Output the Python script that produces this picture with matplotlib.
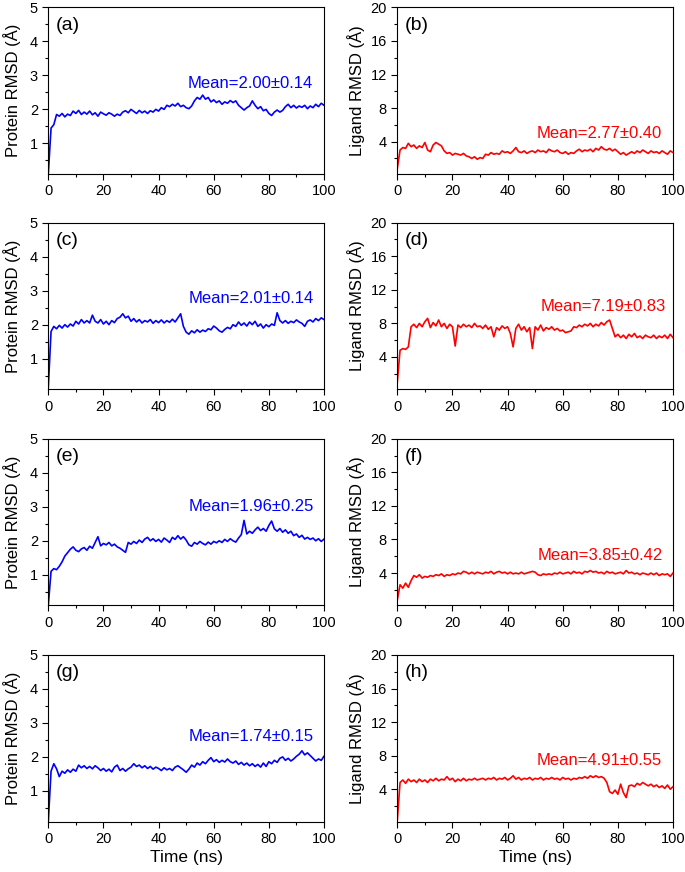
import numpy as np
import matplotlib
matplotlib.use("Agg")
import matplotlib.pyplot as plt

plt.rcParams['font.family'] = ['Liberation Sans', 'DejaVu Sans']

# time axis (ns), one value per ns
time_ns = list(range(0, 101))

# protein RMSD (A), panels a, c, e, g
prot_a = [0.10, 1.45, 1.55, 1.85, 1.80, 1.88, 1.78, 1.86, 1.82, 1.95,
          1.88, 1.97, 1.85, 1.92, 1.86, 1.95, 1.84, 1.90, 1.80, 1.92,
          1.87, 1.83, 1.90, 1.86, 1.80, 1.86, 1.82, 1.92, 1.96, 1.90,
          2.00, 1.94, 1.88, 1.97, 1.90, 1.95, 1.88, 1.96, 1.92, 2.00,
          1.95, 2.05, 2.00, 2.12, 2.08, 2.15, 2.10, 2.18, 2.08, 2.12,
          2.05, 2.02, 2.10, 2.25, 2.35, 2.30, 2.42, 2.30, 2.35, 2.22,
          2.28, 2.20, 2.25, 2.15, 2.22, 2.18, 2.26, 2.20, 2.25, 2.12,
          2.05, 1.98, 2.05, 2.10, 2.25, 2.12, 2.02, 2.08, 1.96, 2.00,
          1.88, 1.82, 1.92, 1.98, 1.92, 1.97, 2.08, 2.15, 2.05, 2.12,
          2.04, 2.10, 2.06, 2.12, 2.02, 2.10, 2.05, 2.15, 2.08, 2.18, 2.12]
prot_c = [0.15, 1.80, 1.95, 1.88, 1.98, 1.90, 2.00, 1.93, 2.02, 1.96,
          2.10, 2.02, 2.15, 2.05, 2.12, 2.05, 2.28, 2.10, 2.05, 2.15,
          2.02, 2.10, 2.00, 2.12, 2.06, 2.18, 2.22, 2.32, 2.20, 2.25,
          2.10, 2.18, 2.08, 2.15, 2.05, 2.12, 2.08, 2.15, 2.04, 2.12,
          2.06, 2.14, 2.05, 2.12, 2.07, 2.16, 2.08, 2.20, 2.32, 1.95,
          1.78, 1.72, 1.82, 1.76, 1.85, 1.78, 1.84, 1.80, 1.88, 1.85,
          1.96, 1.90, 1.82, 1.78, 1.86, 1.92, 1.88, 2.00, 1.95, 2.08,
          1.98, 2.05, 1.96, 2.08, 2.00, 2.10, 1.95, 2.02, 1.90, 2.00,
          1.94, 2.02, 1.98, 2.35, 2.12, 2.05, 2.12, 2.04, 2.10, 2.06,
          2.14, 2.08, 2.04, 1.95, 2.10, 2.14, 2.08, 2.18, 2.12, 2.20, 2.15]
prot_e = [0.10, 1.10, 1.18, 1.15, 1.25, 1.38, 1.55, 1.65, 1.75, 1.82,
          1.72, 1.68, 1.76, 1.80, 1.72, 1.84, 1.78, 1.95, 2.12, 1.85,
          1.92, 1.88, 1.95, 1.85, 1.90, 1.82, 1.78, 1.72, 1.66, 1.95,
          1.90, 1.98, 1.92, 2.02, 1.95, 2.05, 2.10, 2.00, 2.06, 1.98,
          2.04, 1.96, 2.08, 2.02, 1.95, 2.10, 2.04, 2.15, 2.05, 2.12,
          2.02, 1.88, 1.84, 1.95, 1.90, 1.98, 1.92, 1.88, 1.96, 1.90,
          1.98, 1.94, 2.00, 1.95, 2.04, 1.98, 2.06, 2.00, 1.96, 2.08,
          2.18, 2.60, 2.20, 2.28, 2.22, 2.32, 2.40, 2.30, 2.36, 2.28,
          2.45, 2.58, 2.35, 2.28, 2.36, 2.25, 2.32, 2.22, 2.28, 2.15,
          2.20, 2.10, 2.16, 2.05, 2.10, 2.04, 2.08, 2.00, 2.06, 1.98, 2.05]
prot_g = [0.10, 1.58, 1.80, 1.65, 1.42, 1.58, 1.52, 1.62, 1.55, 1.64,
          1.58, 1.76, 1.68, 1.74, 1.66, 1.72, 1.65, 1.74, 1.68, 1.60,
          1.66, 1.58, 1.64, 1.56, 1.70, 1.76, 1.60, 1.66, 1.58, 1.65,
          1.70, 1.80, 1.72, 1.76, 1.68, 1.74, 1.66, 1.72, 1.64, 1.70,
          1.66, 1.60, 1.68, 1.62, 1.66, 1.60, 1.70, 1.74, 1.68, 1.62,
          1.55, 1.64, 1.76, 1.70, 1.82, 1.76, 1.86, 1.80, 1.90, 1.98,
          1.86, 1.92, 1.84, 1.90, 1.85, 1.94, 1.86, 1.82, 1.88, 1.78,
          1.84, 1.76, 1.82, 1.74, 1.80, 1.72, 1.78, 1.70, 1.82, 1.72,
          1.86, 1.80, 1.90, 1.84, 1.96, 2.00, 1.90, 1.96, 1.88, 1.94,
          2.02, 2.08, 2.18, 2.06, 2.12, 2.04, 1.96, 1.88, 1.94, 1.90, 2.02]

# ligand RMSD (A), panels b, d, f, h
lig_b = [0.8, 3.0, 3.3, 3.2, 3.8, 3.4, 3.6, 3.2, 3.5, 3.3,
         3.9, 3.0, 2.8, 3.6, 3.9, 3.7, 3.5, 2.9, 2.6, 2.7,
         2.4, 2.6, 2.5, 2.4, 2.6, 2.3, 2.2, 2.0, 2.2, 1.9,
         2.1, 2.0, 2.5, 2.4, 2.7, 2.5, 2.6, 2.5, 2.9, 2.7,
         2.8, 2.6, 2.9, 3.3, 2.8, 2.7, 2.9, 2.6, 2.8, 2.9,
         2.7, 3.0, 2.8, 2.9, 2.7, 3.1, 2.9, 2.8, 3.0, 2.7,
         2.6, 2.8, 2.5, 2.7, 2.6, 2.9, 3.1, 2.8, 3.0, 2.9,
         3.1, 2.8, 3.2, 3.0, 3.4, 3.1, 3.0, 3.2, 2.9, 3.1,
         2.8, 2.5, 2.7, 2.4, 2.6, 2.8, 2.6, 2.9, 2.7, 3.0,
         2.8, 2.6, 2.9, 2.7, 2.8, 2.6, 2.9, 2.7, 2.5, 2.9, 2.7]
lig_d = [1.0, 4.8, 5.0, 4.9, 5.2, 7.6, 7.9, 7.5, 8.0, 7.6,
         8.2, 8.6, 7.5, 8.1, 7.7, 8.4, 7.6, 8.0, 7.4, 7.9,
         7.6, 5.3, 7.8, 7.5, 7.9, 7.6, 7.8, 7.5, 8.0, 7.6,
         7.7, 7.4, 7.8, 7.3, 7.6, 6.4, 7.5, 7.2, 7.7, 7.4,
         7.6, 6.8, 5.2, 7.4, 7.9, 7.2, 7.6, 7.0, 7.5, 5.0,
         7.6, 7.2, 7.8, 7.1, 7.5, 7.3, 7.6, 7.2, 7.4, 7.1,
         7.2, 6.9, 7.0, 7.1, 7.6, 7.5, 7.8, 7.6, 7.9, 7.7,
         8.0, 7.6, 7.9, 7.7, 8.1, 7.8, 8.2, 8.4, 7.4, 6.4,
         6.7, 6.3, 6.6, 6.2, 6.7, 6.4, 6.8, 6.3, 6.5, 6.2,
         6.6, 6.4, 6.3, 6.6, 6.2, 6.5, 6.3, 6.6, 6.2, 6.7, 6.3]
lig_f = [0.8, 2.6, 2.2, 2.8, 2.3, 3.1, 3.7, 3.5, 3.8, 3.4,
         3.6, 3.5, 3.7, 3.6, 3.8, 3.7, 3.9, 3.6, 3.8, 3.7,
         3.9, 3.8, 4.0, 3.9, 4.2, 4.1, 3.9, 4.1, 3.9, 4.1,
         4.0, 3.9, 4.1, 4.0, 4.2, 3.9, 4.1, 4.2, 4.0, 4.1,
         3.9, 4.1, 3.9, 4.0, 3.9, 4.1, 3.9, 4.0, 4.1, 4.2,
         4.1, 3.8, 3.7, 3.9, 3.8, 3.9, 3.8, 4.0, 3.9, 4.1,
         3.9, 4.0, 4.1, 3.9, 4.2, 4.0, 4.1, 3.9, 4.2, 4.1,
         4.3, 4.1, 4.2, 4.0, 4.1, 3.9, 4.2, 4.0, 4.1, 3.9,
         4.0, 4.1, 3.9, 4.3, 4.0, 4.1, 3.9, 4.0, 3.8, 4.0,
         3.9, 3.8, 4.0, 3.8, 4.0, 3.7, 3.9, 3.8, 3.9, 3.6, 4.0]
lig_h = [0.3, 4.8, 5.1, 4.7, 5.2, 4.9, 5.1, 4.8, 5.2, 4.9,
         5.1, 4.8, 5.2, 5.0, 5.3, 5.0, 5.2, 5.1, 5.5, 5.1,
         5.3, 4.9, 5.2, 5.0, 5.3, 5.0, 5.2, 5.1, 5.3, 5.1,
         5.2, 5.3, 5.1, 5.3, 5.2, 5.4, 5.1, 5.3, 5.2, 5.4,
         5.1, 5.3, 5.6, 5.2, 5.4, 5.1, 5.3, 5.2, 5.4, 5.1,
         5.3, 5.2, 5.4, 5.1, 5.3, 5.2, 5.4, 5.2, 5.3, 5.1,
         5.4, 5.2, 5.3, 5.1, 5.3, 5.2, 5.4, 5.3, 5.5, 5.3,
         5.6, 5.4, 5.6, 5.4, 5.5, 5.3, 4.8, 3.7, 3.5, 3.9,
         3.4, 4.6, 3.6, 3.0, 4.4, 4.5, 4.3, 4.7, 4.5, 4.8,
         4.6, 4.4, 4.6, 4.3, 4.5, 4.2, 4.4, 4.1, 4.5, 4.0, 4.3]

panel_tags = ['(a)', '(b)', '(c)', '(d)', '(e)', '(f)', '(g)', '(h)']
mean_texts = ['Mean=2.00\u00b10.14', 'Mean=2.77\u00b10.40',
              'Mean=2.01\u00b10.14', 'Mean=7.19\u00b10.83',
              'Mean=1.96\u00b10.25', 'Mean=3.85\u00b10.42',
              'Mean=1.74\u00b10.15', 'Mean=4.91\u00b10.55']
mean_pos = [(50.4, 2.76), (50.4, 4.96), (51.0, 2.77), (52.0, 10.0),
            (51.0, 3.0), (51.0, 6.06), (51.0, 2.6), (50.7, 7.37)]


def style_axis(ax, ligand, bottom_row):
    ax.set_xlim(0, 100)
    ax.set_xticks([0, 20, 40, 60, 80, 100])
    ax.set_xticks(np.arange(10, 100, 20), minor=True)
    if ligand:
        ax.set_ylim(0.15, 20)
        ax.set_yticks([4, 8, 12, 16, 20])
        ax.set_yticks([2, 6, 10, 14, 18], minor=True)
        ax.set_ylabel('Ligand RMSD (\u00c5)', fontsize=12, labelpad=4)
    else:
        ax.set_ylim(0.1, 5)
        ax.set_yticks([1, 2, 3, 4, 5])
        ax.set_yticks([0.5, 1.5, 2.5, 3.5, 4.5], minor=True)
        ax.set_ylabel('Protein RMSD (\u00c5)', fontsize=12, labelpad=6)
    ax.tick_params(which='both', direction='out', labelsize=10.5, width=0.8)
    ax.tick_params(which='major', length=4)
    ax.tick_params(which='minor', length=2.5)
    for sp in ax.spines.values():
        sp.set_linewidth(0.8)
    if bottom_row:
        ax.set_xlabel('Time (ns)', fontsize=12.5, labelpad=3)


def main():
    fig = plt.figure(figsize=(6.85, 8.72), dpi=100)
    protein = [prot_a, prot_c, prot_e, prot_g]
    ligand = [lig_b, lig_d, lig_f, lig_h]
    bottoms = [0.8005, 0.5536, 0.3058, 0.0579]
    height = 0.191
    for row in range(4):
        for col in range(2):
            idx = row * 2 + col
            left = 0.0705 if col == 0 else 0.580
            ax = fig.add_axes([left, bottoms[row], 0.4025, height])
            color = 'blue' if col == 0 else 'red'
            data = protein[row] if col == 0 else ligand[row]
            ax.plot(time_ns, data, color=color, lw=1.2)
            style_axis(ax, col == 1, row == 3)
            ax.text(0.028, 0.894, panel_tags[idx], transform=ax.transAxes,
                    fontsize=14, va='center', ha='left')
            mx, my = mean_pos[idx]
            ax.text(mx, my, mean_texts[idx], color=color, fontsize=12,
                    va='center', ha='left')
    fig.savefig('out.png', dpi=100)


if __name__ == "__main__":
    main()
